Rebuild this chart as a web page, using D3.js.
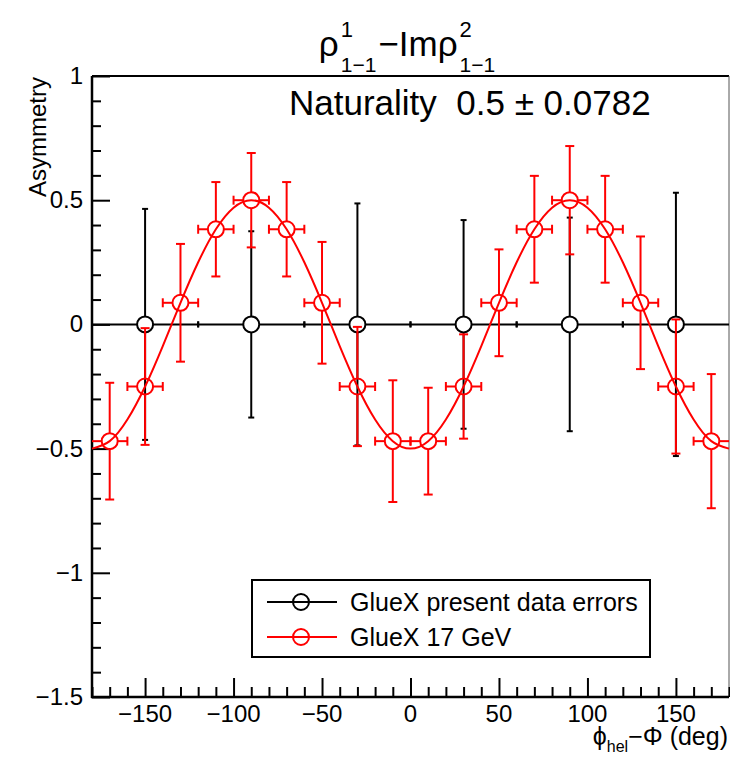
<!DOCTYPE html>
<html>
<head>
<meta charset="utf-8">
<script src="https://cdn.jsdelivr.net/npm/d3@7"></script>
<style>
  body { margin: 0; background: #fff; }
  text { font-family: "Liberation Sans", Arial, Helvetica, sans-serif; fill: #000; white-space: pre; }
</style>
</head>
<body>
<div id="chart-area"></div>
<script>
// red points: GlueX 17 GeV (20 deg bins)
var redPhi = [-170, -150, -130, -110, -90, -70, -50, -30, -10, 10, 30, 50, 70, 90, 110, 130, 150, 170];
var redVal = [-0.47, -0.25, 0.087, 0.383, 0.5, 0.383, 0.087, -0.25, -0.47, -0.47, -0.25, 0.087, 0.383, 0.5, 0.383, 0.087, -0.25, -0.47];
var redErr = [0.235, 0.235, 0.237, 0.19, 0.19, 0.19, 0.245, 0.24, 0.245, 0.215, 0.21, 0.215, 0.215, 0.218, 0.215, 0.267, 0.27, 0.27];
var redBinHalf = 10;

// black points: present data errors (60 deg bins)
var blackPhi = [-150, -90, -30, 30, 90, 150];
var blackVal = [0, 0, 0, 0, 0, 0];
var blackErr = [0.465, 0.375, 0.487, 0.42, 0.43, 0.53];
var blackBinHalf = 30;

// fit curve
var fitPhi = [-180, -170, -160, -150, -140, -130, -120, -110, -100, -90, -80, -70, -60, -50, -40, -30, -20, -10, 0,
              10, 20, 30, 40, 50, 60, 70, 80, 90, 100, 110, 120, 130, 140, 150, 160, 170, 180];
var fitVal = [-0.5, -0.47, -0.383, -0.25, -0.087, 0.087, 0.25, 0.383, 0.47, 0.5, 0.47, 0.383, 0.25, 0.087, -0.087, -0.25, -0.383, -0.47, -0.5,
              -0.47, -0.383, -0.25, -0.087, 0.087, 0.25, 0.383, 0.47, 0.5, 0.47, 0.383, 0.25, 0.087, -0.087, -0.25, -0.383, -0.47, -0.5];

var xTicks = [-150, -100, -50, 0, 50, 100, 150];
var yTicks = [-1.5, -1, -0.5, 0, 0.5, 1];
var legendLabels = ["GlueX present data errors", "GlueX 17 GeV"];

var margin = {left: 92, right: 1, top: 76, bottom: 60};
var W = 730, H = 757;
var width = W - margin.left - margin.right;
var height = H - margin.top - margin.bottom;

var svg = d3.select("#chart-area").append("svg")
  .attr("width", W)
  .attr("height", H);

var g = svg.append("g")
  .attr("transform", "translate(" + margin.left + "," + margin.top + ")");

var x = d3.scaleLinear().domain([-180, 180]).range([0, width]);
var y = d3.scaleLinear().domain([-1.5, 1]).range([height, 0]);

var fmt = function(d) { return d3.format("")(d).replace("-", "\u2212"); };

// frame top / right
g.append("line").attr("x1", 0).attr("x2", width).attr("y1", 0).attr("y2", 0)
  .attr("stroke", "#000").attr("stroke-width", 2);
g.append("line").attr("x1", width).attr("x2", width).attr("y1", 0).attr("y2", height)
  .attr("stroke", "#555").attr("stroke-width", 1);

// x axis: ticks point inward
var xAxis = g.append("g").attr("transform", "translate(0," + height + ")");
xAxis.call(d3.axisTop(x).tickValues(d3.range(-180, 181, 10)).tickSize(10).tickFormat(""));
xAxis.selectAll(".tick line").filter(function(d) { return xTicks.indexOf(d) >= 0; }).attr("y2", -19);
xAxis.select(".domain").remove();
xAxis.selectAll("line").attr("stroke-width", 2);
xAxis.append("line").attr("x1", -1).attr("x2", width).attr("stroke", "#000").attr("stroke-width", 2.5);
xAxis.selectAll(".lbl").data(xTicks).enter().append("text")
  .attr("class", "lbl")
  .attr("x", function(d) { return x(d); })
  .attr("y", 25)
  .attr("text-anchor", "middle")
  .attr("font-size", "24px")
  .text(fmt);

// y axis
var yAxis = g.append("g");
yAxis.call(d3.axisRight(y).tickValues(d3.range(-15, 11, 1).map(function(v) { return v / 10; })).tickSize(9).tickFormat(""));
yAxis.selectAll(".tick line").filter(function(d) { return Math.abs(d * 2 - Math.round(d * 2)) < 1e-6; }).attr("x2", 18);
yAxis.select(".domain").remove();
yAxis.selectAll("line").attr("stroke-width", 2);
yAxis.append("line").attr("y1", 0).attr("y2", height + 1).attr("stroke", "#000").attr("stroke-width", 2.5);
yAxis.selectAll(".lbl").data(yTicks).enter().append("text")
  .attr("class", "lbl")
  .attr("x", -9)
  .attr("y", function(d) { return y(d) + 8; })
  .attr("text-anchor", "end")
  .attr("font-size", "24px")
  .text(fmt);

// axis titles
svg.append("text")
  .attr("transform", "translate(46,77) rotate(-90)")
  .attr("text-anchor", "end")
  .attr("font-size", "24px")
  .text("Asymmetry");

var xt = svg.append("text").attr("y", 745).attr("font-size", "25px").attr("text-anchor", "end");
xt.append("tspan").text("\u03d5");
xt.append("tspan").attr("font-size", "16px").attr("dy", 7).text("hel");
xt.append("tspan").attr("dy", -7).text("\u2212\u03a6 (deg)");
xt.attr("x", 728);

// error bars with a gap around the marker, ROOT style
var r = 8;
function drawSeries(phi, val, err, half, color, cap) {
  var s = g.append("g").attr("stroke", color).attr("stroke-width", 2).attr("fill", "none");
  phi.forEach(function(p, i) {
    var cx = x(p), cy = y(val[i]);
    var x0 = x(Math.max(p - half, -180)), x1 = x(Math.min(p + half, 180));
    var yt = y(val[i] + err[i]), yb = y(val[i] - err[i]);
    if (cx - r > x0) s.append("line").attr("x1", x0).attr("x2", cx - r).attr("y1", cy).attr("y2", cy);
    if (x1 > cx + r) s.append("line").attr("x1", cx + r).attr("x2", x1).attr("y1", cy).attr("y2", cy);
    s.append("line").attr("x1", cx).attr("x2", cx).attr("y1", cy - r).attr("y2", yt);
    s.append("line").attr("x1", cx).attr("x2", cx).attr("y1", cy + r).attr("y2", yb);
    // caps
    s.append("line").attr("x1", cx - cap).attr("x2", cx + cap).attr("y1", yt).attr("y2", yt);
    s.append("line").attr("x1", cx - cap).attr("x2", cx + cap).attr("y1", yb).attr("y2", yb);
    if (p - half > -180) s.append("line").attr("x1", x0).attr("x2", x0).attr("y1", cy - cap).attr("y2", cy + cap);
    if (p + half < 180) s.append("line").attr("x1", x1).attr("x2", x1).attr("y1", cy - cap).attr("y2", cy + cap);
    s.append("circle").attr("cx", cx).attr("cy", cy).attr("r", r);
  });
}

drawSeries(blackPhi, blackVal, blackErr, blackBinHalf, "#000", 3);
drawSeries(redPhi, redVal, redErr, redBinHalf, "#ff0000", 4.5);

var line = d3.line()
  .x(function(d) { return x(d[0]); })
  .y(function(d) { return y(d[1]); })
  .curve(d3.curveNatural);

g.append("path")
  .datum(fitPhi.map(function(p, i) { return [p, fitVal[i]]; }))
  .attr("d", line)
  .attr("fill", "none")
  .attr("stroke", "#ff0000")
  .attr("stroke-width", 2);

// naturality label
svg.append("text")
  .attr("x", 289)
  .attr("y", 115)
  .attr("font-size", "35px")
  .text("Naturality  0.5 \u00b1 0.0782");

// legend
var leg = svg.append("g");
leg.append("rect").attr("x", 252).attr("y", 580).attr("width", 398).attr("height", 77)
  .attr("fill", "#fff").attr("stroke", "#000").attr("stroke-width", 2);
var legColors = ["#000", "#ff0000"];
legendLabels.forEach(function(lab, i) {
  var ly = 602 + i * 35;
  leg.append("line").attr("x1", 267).attr("x2", 337).attr("y1", ly).attr("y2", ly)
    .attr("stroke", legColors[i]).attr("stroke-width", 2);
  leg.append("circle").attr("cx", 301).attr("cy", ly).attr("r", r)
    .attr("fill", "none").attr("stroke", legColors[i]).attr("stroke-width", 2);
  leg.append("text").attr("x", 350).attr("y", ly + 9).attr("font-size", "25px").text(lab);
});

// title: rho^1_{1-1} - Im rho^2_{1-1}
var tg = svg.append("g");
var cur = 0;
function piece(txt, size, dy) {
  var t = tg.append("text").attr("x", cur).attr("y", 56 + dy).attr("font-size", size + "px").text(txt);
  return t.node().getComputedTextLength();
}
function supsub(sup, sub) {
  var w1 = piece(sup, 22, -19);
  var w2 = piece(sub, 21, 16);
  cur += Math.max(w1, w2) + 2;
}
cur += piece("\u03c1", 35, 0) + 2;
supsub("1", "1\u22121");
cur += piece("\u2212Im\u03c1", 35, 0) + 2;
supsub("2", "1\u22121");
tg.attr("transform", "translate(" + (408 - cur / 2) + ",0)");
</script>
</body>
</html>
